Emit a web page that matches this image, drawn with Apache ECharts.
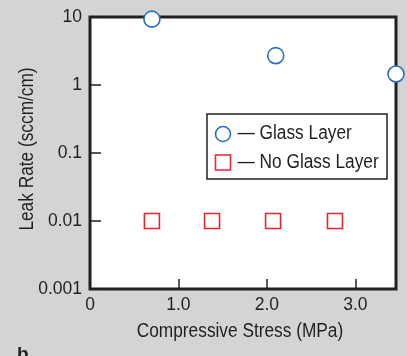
<!DOCTYPE html>
<html>
<head>
<meta charset="utf-8">
<script src="https://cdn.jsdelivr.net/npm/echarts@6/dist/echarts.min.js"></script>
<style>
html,body{margin:0;padding:0;background:#d3d4d6;}
#c{width:407px;height:356px;}
</style>
</head>
<body>
<div id="c"></div>
<script>
// Data
var glassStress = [0.70, 2.10, 3.46];
var glassLeak = [9.3, 2.7, 1.45];
var noGlassStress = [0.70, 1.38, 2.07, 2.77];
var noGlassLeak = [0.01, 0.01, 0.01, 0.01];
var xTickLabels = ['0', '1.0', '2.0', '3.0'];
var yTickLabels = ['0.001', '0.01', '0.1', '1', '10'];
var seriesNames = ['Glass Layer', 'No Glass Layer'];

var FONT = '"Liberation Sans", Arial, sans-serif';
var INK = '#231f20';
var BLUE = '#2a6ebb';
var RED = '#e8252f';
var STRETCH = 1.2;

function pairs(xs, ys) { return xs.map(function (x, i) { return [x, ys[i]]; }); }

var chart = echarts.init(document.getElementById('c'), null, { renderer: 'canvas' });
chart.setOption({
  backgroundColor: '#d3d4d6',
  animation: false,
  grid: {
    left: 90, top: 17, right: 11, bottom: 67,
    show: true, backgroundColor: '#ffffff', borderColor: INK, borderWidth: 3
  },
  xAxis: {
    type: 'value', min: 0, max: 3.46, interval: 1,
    axisLine: { show: false },
    splitLine: { show: false },
    axisTick: { show: true, inside: true, length: 10, lineStyle: { color: INK, width: 1.5 } },
    axisLabel: {
      margin: 7, color: INK, fontFamily: FONT, fontSize: 17.5,
      showMaxLabel: false,
      formatter: function (v) {
        var i = Math.round(v);
        if (Math.abs(v - i) > 1e-6) return '';
        return xTickLabels[i] || '';
      }
    }
  },
  yAxis: {
    type: 'log', logBase: 10, min: 0.001, max: 10,
    axisLine: { show: false },
    splitLine: { show: false },
    axisTick: { show: true, inside: true, length: 11, lineStyle: { color: INK, width: 1.5 } },
    axisLabel: {
      margin: 8, color: INK, fontFamily: FONT, fontSize: 17.5,
      formatter: function (v) {
        var e = Math.round(Math.log10(v));
        return yTickLabels[e + 3] || '';
      }
    }
  },
  series: [
    {
      name: seriesNames[0], type: 'scatter', symbol: 'circle', symbolSize: 16, clip: false, z: 5,
      itemStyle: { color: '#ffffff', borderColor: BLUE, borderWidth: 1.6, opacity: 1 },
      data: pairs(glassStress, glassLeak)
    },
    {
      name: seriesNames[1], type: 'scatter', symbol: 'rect', symbolSize: 15, clip: false, z: 5,
      itemStyle: { color: '#ffffff', borderColor: RED, borderWidth: 1.6, opacity: 1 },
      data: pairs(noGlassStress, noGlassLeak)
    }
  ],
  graphic: [
    {
      type: 'text', x: 27, y: 149, rotation: Math.PI / 2, scaleY: STRETCH,
      style: { text: 'Leak Rate (sccm/cm)', fill: INK, font: '17.3px ' + FONT, align: 'center', verticalAlign: 'middle' }
    },
    {
      type: 'text', x: 240, y: 331, scaleY: STRETCH,
      style: { text: 'Compressive Stress (MPa)', fill: INK, font: '17.3px ' + FONT, align: 'center', verticalAlign: 'middle' }
    },
    {
      type: 'text', x: 17, y: 345,
      style: { text: 'b', fill: INK, font: 'bold 19px ' + FONT, align: 'left', verticalAlign: 'top' }
    },
    // legend box
    {
      type: 'group', z: 10,
      children: [
        { type: 'rect', shape: { x: 207, y: 114, width: 180, height: 65 },
          style: { fill: '#ffffff', stroke: INK, lineWidth: 1.5 } },
        { type: 'circle', shape: { cx: 223, cy: 134, r: 7.5 },
          style: { fill: '#ffffff', stroke: BLUE, lineWidth: 1.6 } },
        { type: 'rect', shape: { x: 215.5, y: 155, width: 15, height: 15 },
          style: { fill: '#ffffff', stroke: RED, lineWidth: 1.6 } },
        { type: 'text', x: 237.5, y: 133.5, scaleY: STRETCH,
          style: { text: '\u2014 ' + seriesNames[0], fill: INK, font: '17.3px ' + FONT, align: 'left', verticalAlign: 'middle' } },
        { type: 'text', x: 237.5, y: 162.5, scaleY: STRETCH,
          style: { text: '\u2014 ' + seriesNames[1], fill: INK, font: '17.3px ' + FONT, align: 'left', verticalAlign: 'middle' } }
      ]
    }
  ]
});
</script>
</body>
</html>
